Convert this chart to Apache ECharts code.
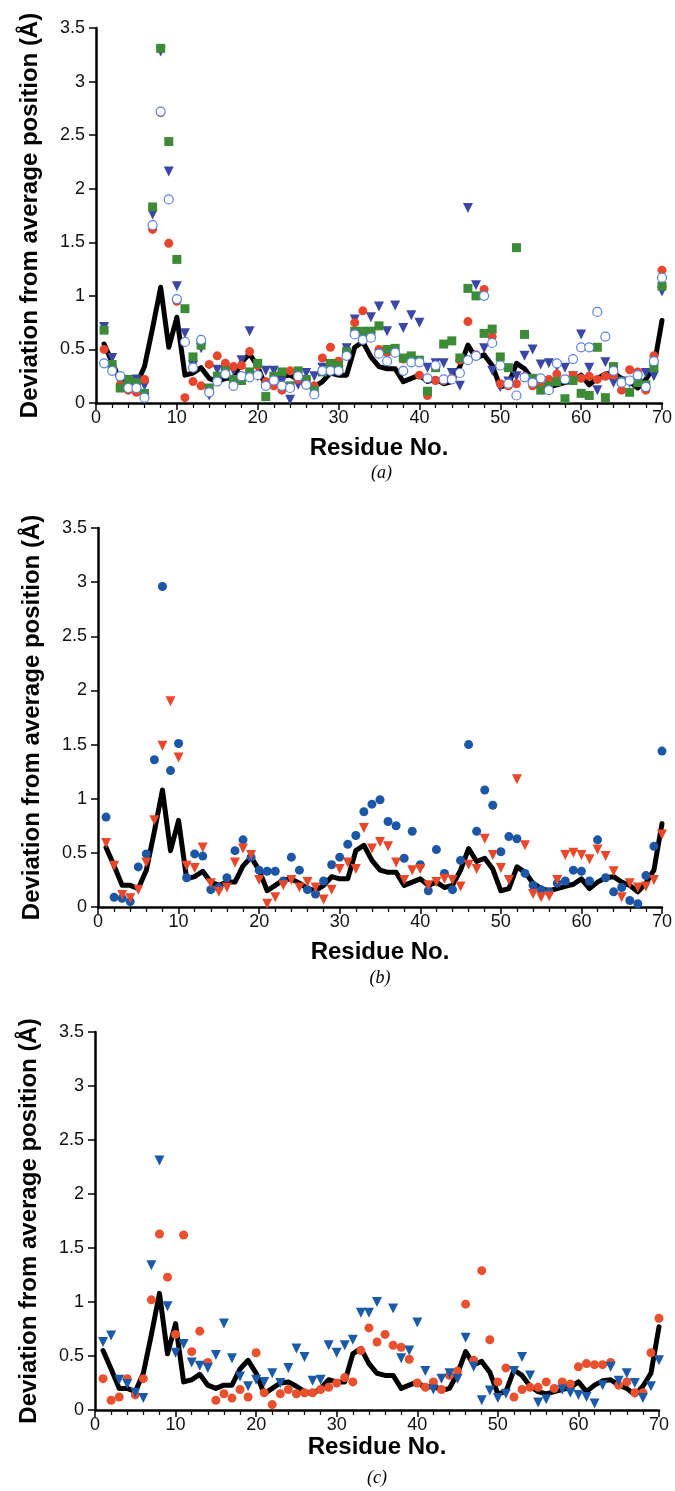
<!DOCTYPE html>
<html>
<head>
<meta charset="utf-8">
<script src="https://cdn.jsdelivr.net/npm/echarts@6/dist/echarts.min.js"></script>
<style>
html,body{margin:0;padding:0;background:#fff;}
#chart{width:675px;height:1491px;}
</style>
</head>
<body>
<div id="chart"></div>
<script>
// ---- data ----
const xTicks = [0, 10, 20, 30, 40, 50, 60, 70];
const yTicks = [0, 0.5, 1, 1.5, 2, 2.5, 3, 3.5];
const panelLabels = ['(a)', '(b)', '(c)'];

// average deviation (black line, identical in all panels)
const meanLine = [0.55,0.38,0.2,0.2,0.17,0.34,0.7,1.08,0.52,0.8, 0.26,0.28,0.33,0.23,0.2,0.23,0.23,0.38,0.46,0.34, 0.15,0.2,0.25,0.26,0.22,0.17,0.15,0.2,0.28,0.26, 0.26,0.52,0.57,0.43,0.34,0.32,0.32,0.2,0.23,0.26, 0.2,0.23,0.18,0.2,0.34,0.54,0.42,0.45,0.35,0.15, 0.17,0.37,0.32,0.22,0.17,0.15,0.17,0.19,0.21,0.26, 0.17,0.23,0.27,0.28,0.23,0.2,0.14,0.22,0.34,0.77];

// panel (a)
const aRed = [0.5,0.34,0.17,0.12,0.1,0.22,1.62,2.71,1.49,0.95, 0.05,0.2,0.16,0.36,0.44,0.37,0.34,0.35,0.48,0.35, 0.2,0.16,0.12,0.3,0.22,0.22,0.16,0.42,0.52,0.39, 0.47,0.75,0.86,0.66,0.5,0.47,0.47,0.41,0.39,0.26, 0.07,0.21,0.21,0.23,0.4,0.76,0.45,1.06,0.62,0.18, 0.16,0.18,0.25,0.16,0.16,0.22,0.27,0.22,0.26,0.23, 0.25,0.22,0.25,0.26,0.12,0.31,0.29,0.12,0.44,1.24];
const aOpen = [0.37,0.3,0.25,0.14,0.14,0.05,1.66,2.72,1.9,0.97, 0.57,0.33,0.59,0.1,0.2,0.27,0.16,0.25,0.24,0.26, 0.16,0.21,0.16,0.14,0.25,0.17,0.08,0.3,0.3,0.3, 0.44,0.64,0.59,0.61,0.46,0.39,0.47,0.3,0.38,0.38, 0.23,0.35,0.22,0.22,0.28,0.4,0.44,1.0,0.56,0.35, 0.18,0.07,0.24,0.19,0.23,0.12,0.37,0.22,0.41,0.52, 0.52,0.85,0.62,0.3,0.19,0.21,0.26,0.15,0.39,1.17];
const aGreen = [0.68,0.36,0.14,0.22,0.19,0.09,1.83,3.31,2.44,1.34, 0.88,0.43,0.54,0.14,0.25,0.3,0.22,0.21,0.29,0.37, 0.06,0.25,0.29,0.16,0.3,0.22,0.12,0.29,0.37,0.35, 0.48,0.67,0.67,0.67,0.72,0.5,0.51,0.42,0.44,0.4, 0.11,0.33,0.55,0.58,0.42,1.07,1.0,0.65,0.69,0.43, 0.33,1.45,0.64,0.23,0.12,0.16,0.2,0.04,0.21,0.09, 0.07,0.52,0.05,0.34,0.2,0.1,0.19,0.17,0.33,1.09];
const aTri = [0.71,0.42,0.2,0.19,0.22,0.16,1.76,3.28,2.16,1.09, 0.65,0.35,0.51,0.07,0.31,0.3,0.3,0.4,0.67,0.25, 0.3,0.3,0.2,0.03,0.17,0.28,0.25,0.33,0.35,0.3, 0.51,0.78,0.6,0.8,0.9,0.67,0.91,0.7,0.82,0.75, 0.33,0.37,0.37,0.28,0.16,1.82,1.1,0.51,0.3,0.15, 0.2,0.25,0.44,0.5,0.36,0.37,0.34,0.33,0.25,0.64, 0.33,0.12,0.38,0.19,0.2,0.19,0.22,0.28,0.25,1.04];

// panel (b)
const bCircle = [0.83,0.09,0.08,0.05,0.37,0.49,1.36,2.96,1.26,1.51, 0.27,0.49,0.47,0.16,0.18,0.27,0.52,0.62,0.46,0.34, 0.33,0.33,0.24,0.46,0.34,0.16,0.12,0.24,0.39,0.46, 0.58,0.66,0.88,0.95,0.99,0.79,0.75,0.45,0.7,0.39, 0.15,0.53,0.31,0.16,0.43,1.5,0.7,1.08,0.94,0.51, 0.65,0.63,0.31,0.2,0.16,0.14,0.22,0.24,0.34,0.33, 0.24,0.62,0.27,0.14,0.18,0.06,0.03,0.29,0.56,1.44];
const bTri = [0.59,0.38,0.11,0.08,0.16,0.41,0.8,1.49,1.9,1.38, 0.38,0.36,0.55,0.22,0.14,0.18,0.41,0.54,0.48,0.25, 0.03,0.09,0.2,0.25,0.18,0.23,0.18,0.07,0.16,0.35, 0.41,0.35,0.73,0.54,0.6,0.56,0.41,0.25,0.34,0.35, 0.2,0.23,0.26,0.25,0.19,0.39,0.35,0.63,0.48,0.36, 0.25,1.18,0.57,0.12,0.09,0.1,0.25,0.48,0.5,0.48, 0.44,0.53,0.47,0.33,0.09,0.22,0.18,0.19,0.25,0.67];

// panel (c)
const cCircle = [0.29,0.09,0.12,0.29,0.14,0.29,1.02,1.63,1.23,0.7, 1.62,0.54,0.73,0.44,0.09,0.15,0.11,0.19,0.12,0.53, 0.16,0.05,0.15,0.19,0.15,0.16,0.16,0.19,0.21,0.25, 0.3,0.26,0.55,0.76,0.63,0.7,0.6,0.58,0.47,0.25, 0.21,0.26,0.19,0.32,0.36,0.98,0.46,1.29,0.65,0.26, 0.39,0.12,0.19,0.21,0.21,0.26,0.2,0.26,0.24,0.4, 0.43,0.42,0.42,0.44,0.23,0.26,0.16,0.16,0.53,0.85];
const cTri = [0.63,0.69,0.28,0.24,0.16,0.11,1.34,2.31,0.96,0.53, 0.61,0.44,0.41,0.39,0.51,0.8,0.48,0.31,0.22,0.28, 0.26,0.34,0.25,0.39,0.57,0.49,0.27,0.28,0.6,0.53, 0.6,0.65,0.9,0.9,1.0,null,0.94,0.48,0.55,0.81, 0.36,0.19,0.29,0.34,0.29,0.67,0.4,0.09,0.18,0.11, 0.15,0.36,0.49,0.32,0.07,0.1,null,0.19,0.16,0.14, 0.12,0.06,0.23,0.4,0.27,0.34,0.25,0.11,0.22,0.46];

// ---- build ----
const FONT = '"Liberation Sans", Arial, Helvetica, sans-serif';
const toXY = arr => arr.map((v, i) => [i + 1, v]).filter(p => p[1] !== null);

const grids = [
  {left: 96, top: 28, width: 571, height: 375},
  {left: 98, top: 528, width: 564, height: 379},
  {left: 95, top: 1032, width: 564, height: 378}
];
const xNameGaps = [33, 33, 20];
const labelTops = [464, 969, 1469];

function xAxisFor(i) {
  return {
    type: 'value', gridIndex: i, min: xTicks[0], max: xTicks[xTicks.length - 1], interval: 10,
    name: 'Residue No.', nameLocation: 'middle', nameGap: xNameGaps[i],
    nameTextStyle: {fontFamily: FONT, fontWeight: 'bold', fontSize: 24, color: '#000'},
    axisLine: {show: true, lineStyle: {color: '#000', width: 2.5}},
    axisTick: {show: true, inside: false, length: 7, lineStyle: {color: '#000', width: 1.5}},
    minorTick: {show: true, splitNumber: 5, length: 5, lineStyle: {color: '#000', width: 1.2}},
    axisLabel: {fontFamily: FONT, fontSize: 18, color: '#111', margin: 6},
    splitLine: {show: false}
  };
}
function yAxisFor(i) {
  return {
    type: 'value', gridIndex: i, min: yTicks[0], max: yTicks[yTicks.length - 1], interval: 0.5,
    name: 'Deviation from average position (Å)', nameLocation: 'middle', nameRotate: 90, nameGap: 54,
    nameTextStyle: {fontFamily: FONT, fontWeight: 'bold', fontSize: 24, color: '#000'},
    axisLine: {show: true, lineStyle: {color: '#000', width: 2.5}},
    axisTick: {show: true, inside: false, length: 7, lineStyle: {color: '#000', width: 1.5}},
    axisLabel: {fontFamily: FONT, fontSize: 18, color: '#111', margin: 11},
    splitLine: {show: false}
  };
}
function lineSeries(i) {
  return {type: 'line', xAxisIndex: i, yAxisIndex: i, data: toXY(meanLine), symbol: 'none',
    lineStyle: {color: '#000', width: 5, join: 'round', cap: 'round'}, z: 1, silent: true, animation: false};
}
function scat(i, arr, shape, color, opts) {
  const s = {type: 'scatter', xAxisIndex: i, yAxisIndex: i, data: toXY(arr), symbol: shape, symbolSize: 9,
    itemStyle: {color: color, opacity: 1}, z: 2, animation: false};
  if (shape === 'triangle') { s.symbolRotate = 180; s.symbolSize = 10; }
  return Object.assign(s, opts || {});
}

const series = [
  lineSeries(0),
  scat(0, aTri, 'triangle', '#3b47a6'),
  scat(0, aRed, 'circle', '#e8452c'),
  scat(0, aGreen, 'rect', '#3d8b37', {symbolSize: 9}),
  scat(0, aOpen, 'circle', '#ffffff', {itemStyle: {color: '#ffffff', borderColor: '#5a80e0', borderWidth: 1.2, opacity: 1}}),
  lineSeries(1),
  scat(1, bCircle, 'circle', '#1c56a6'),
  scat(1, bTri, 'triangle', '#e9472a'),
  lineSeries(2),
  scat(2, cCircle, 'circle', '#e9502e'),
  scat(2, cTri, 'triangle', '#1b5aa8')
];

const graphic = panelLabels.map((t, i) => ({
  type: 'text',
  x: grids[i].left + grids[i].width / 2,
  y: labelTops[i],
  style: {text: t, font: 'italic 18px "Liberation Serif", "Times New Roman", serif', fill: '#000', textAlign: 'center'}
}));

const chart = echarts.init(document.getElementById('chart'), null, {renderer: 'canvas'});
chart.setOption({
  backgroundColor: '#fff',
  animation: false,
  grid: grids,
  xAxis: [0, 1, 2].map(xAxisFor),
  yAxis: [0, 1, 2].map(yAxisFor),
  series: series,
  graphic: graphic
});
</script>
</body>
</html>
